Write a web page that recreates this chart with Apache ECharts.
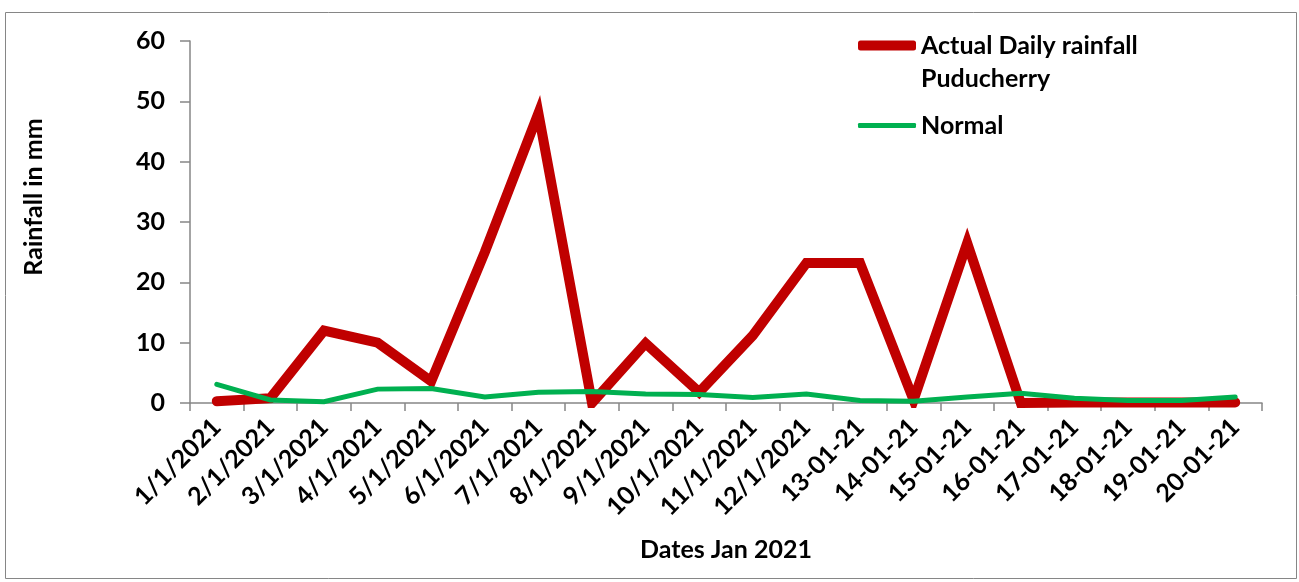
<!DOCTYPE html>
<html>
<head>
<meta charset="utf-8">
<style>
  html, body { margin: 0; padding: 0; background: #fff; }
  #chart { width: 1299px; height: 582px; }
</style>
<script src="https://cdn.jsdelivr.net/npm/echarts@6/dist/echarts.min.js"></script>
</head>
<body>
<div id="chart"></div>
<script>
// dates on the x axis
var dates = [
  "1/1/2021", "2/1/2021", "3/1/2021", "4/1/2021", "5/1/2021",
  "6/1/2021", "7/1/2021", "8/1/2021", "9/1/2021", "10/1/2021",
  "11/1/2021", "12/1/2021", "13-01-21", "14-01-21", "15-01-21",
  "16-01-21", "17-01-21", "18-01-21", "19-01-21", "20-01-21"
];
// actual rainfall (mm)
var actual = [0.3, 0.8, 12, 10, 3.6, 25, 48, 0, 9.9, 1.8, 11.2, 23.2, 23.2, 0.5, 26.5, 0, 0.1, 0.1, 0.1, 0.1];
// normal rainfall (mm)
var normal = [3.1, 0.5, 0.2, 2.3, 2.4, 1.0, 1.8, 1.9, 1.5, 1.4, 0.9, 1.5, 0.4, 0.3, 1.0, 1.6, 0.8, 0.4, 0.4, 1.0];
var yTicks = [0, 10, 20, 30, 40, 50, 60];

var actualName = "Actual Daily rainfall\nPuducherry";
var font = "Lato";
var fs = 25;
var axisGrey = "#868686";

var chart = echarts.init(document.getElementById("chart"));

var boldText = { fontFamily: font, fontWeight: "bold", fontSize: fs, color: "#000" };

chart.setOption({
  backgroundColor: "#fff",
  animation: false,
  textStyle: { fontFamily: font },
  graphic: [
    {
      type: "rect",
      shape: { x: 5.5, y: 12.5, width: 1291, height: 566 },
      style: { fill: "none", stroke: axisGrey, lineWidth: 1 },
      silent: true
    }
  ],
  legend: [
    {
      left: 858,
      top: -4,
      padding: 0,
      icon: "roundRect",
      itemWidth: 58,
      itemHeight: 10,
      data: [actualName],
      // blank first line keeps the first text line level with the icon
      formatter: function (name) { return " \n" + name; },
      textStyle: Object.assign({ lineHeight: 33 }, boldText)
    },
    {
      left: 858,
      top: 113,
      padding: 0,
      icon: "roundRect",
      itemWidth: 58,
      itemHeight: 5,
      data: ["Normal"],
      textStyle: boldText
    }
  ],
  grid: {
    left: 190,
    right: 37,
    top: 41,
    bottom: 179,
    containLabel: false
  },
  xAxis: {
    type: "category",
    data: dates,
    boundaryGap: true,
    name: "Dates Jan 2021",
    nameLocation: "middle",
    nameGap: 134,
    nameTextStyle: boldText,
    axisLine: { lineStyle: { color: axisGrey, width: 1.5 } },
    axisTick: { show: true, length: 8, lineStyle: { color: axisGrey, width: 1.5 } },
    axisLabel: Object.assign({ rotate: 45, interval: 0, margin: 20 }, boldText),
    splitLine: { show: false }
  },
  yAxis: {
    type: "value",
    min: yTicks[0],
    max: yTicks[yTicks.length - 1],
    interval: 10,
    name: "Rainfall in mm",
    nameLocation: "middle",
    nameRotate: 90,
    nameGap: 144,
    nameTextStyle: Object.assign({ padding: [0, 0, 0, 50] }, boldText),
    axisLine: { show: true, lineStyle: { color: axisGrey, width: 1.5 } },
    axisTick: { show: true, length: 10, lineStyle: { color: axisGrey, width: 1.5 } },
    axisLabel: Object.assign({ margin: 25 }, boldText),
    splitLine: { show: false }
  },
  series: [
    {
      name: actualName,
      type: "line",
      data: actual,
      symbol: "none",
      itemStyle: { color: "#C00000" },
      lineStyle: { color: "#C00000", width: 10, cap: "round", join: "miter" }
    },
    {
      name: "Normal",
      type: "line",
      data: normal,
      symbol: "none",
      itemStyle: { color: "#00B050" },
      lineStyle: { color: "#00B050", width: 5, cap: "round", join: "miter" }
    }
  ]
});
</script>
</body>
</html>
